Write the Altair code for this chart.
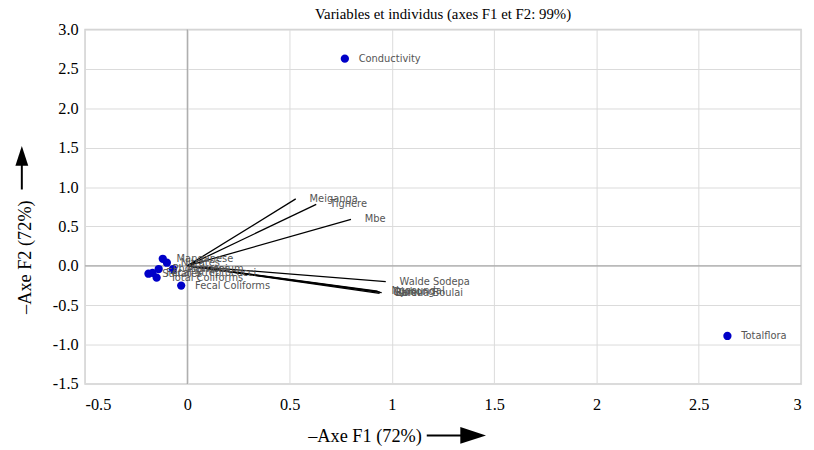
import altair as alt
import pandas as pd

# Individuals (observations) -> blue points
ind_names = ["Conductivity", "Totalflora", "Fecal Coliforms", "Manganese", "Nitrates",
             "Ammonium", "Phosphates", "Sulfates", "Fecal Streptococci", "Total Coliforms"]
ind_f1 = [0.77, 2.64, -0.03, -0.12, -0.10, -0.07, -0.14, -0.19, -0.17, -0.15]
ind_f2 = [2.63, -0.89, -0.25, 0.09, 0.04, -0.04, -0.04, -0.10, -0.09, -0.15]

# Variables (sites) -> vectors from origin
var_names = ["Meiganga", "Tignere", "Mbe", "Walde Sodepa", "Djohong", "Ngaoundal",
             "Belel", "Garoua Boulai"]
var_f1 = [0.53, 0.63, 0.80, 0.97, 0.94, 0.93, 0.95, 0.94]
var_f2 = [0.85, 0.78, 0.59, -0.20, -0.33, -0.32, -0.34, -0.35]

x_ticks = [-0.5, 0, 0.5, 1, 1.5, 2, 2.5, 3]
y_ticks = [-1.5, -1.0, -0.5, 0.0, 0.5, 1.0, 1.5, 2.0, 2.5, 3.0]

ind = pd.DataFrame({"name": ind_names, "f1": ind_f1, "f2": ind_f2})
var = pd.DataFrame({"name": var_names, "f1": var_f1, "f2": var_f2,
                    "o1": [0.0] * len(var_names), "o2": [0.0] * len(var_names)})

SERIF = "Liberation Serif"
SANS = "DejaVu Sans"

xs = alt.Scale(domain=[-0.5, 3], nice=False, zero=False)
ys = alt.Scale(domain=[-1.5, 3], nice=False, zero=False)

xaxis = alt.Axis(values=x_ticks, title="–Axe F1 (72%)",
                 labelExpr="replace(format(datum.value, ''), '−', '-')",
                 labelPadding=13, titleX=283, titleY=52, titleBaseline="middle", titleAlign="center")
yaxis = alt.Axis(values=y_ticks, title="–Axe F2 (72%)",
                 labelExpr="replace(format(datum.value, '.1f'), '−', '-')",
                 labelPadding=7, titleX=-61, titleY=230, titleAngle=270,
                 titleBaseline="middle", titleAlign="center")

zero_df = pd.DataFrame({"v": [0.0]})
zx = alt.Chart(zero_df).mark_rule(color="#a8a8a8", strokeWidth=1.2).encode(
    x=alt.X("v:Q", scale=xs, axis=xaxis))
zy = alt.Chart(zero_df).mark_rule(color="#a8a8a8", strokeWidth=1.2).encode(
    y=alt.Y("v:Q", scale=ys, axis=yaxis))

vec = alt.Chart(var).mark_rule(color="black", strokeWidth=1.3).encode(
    x=alt.X("o1:Q", scale=xs, axis=xaxis), y=alt.Y("o2:Q", scale=ys, axis=yaxis),
    x2="f1:Q", y2="f2:Q")
vec_lab = alt.Chart(var).mark_text(align="left", baseline="middle", dx=14, font=SANS,
                                   fontSize=10, color="#555555").encode(
    x=alt.X("f1:Q", scale=xs, axis=xaxis), y=alt.Y("f2:Q", scale=ys, axis=yaxis), text="name:N")

pts = alt.Chart(ind).mark_circle(size=70, color="#0000c8", opacity=1).encode(
    x=alt.X("f1:Q", scale=xs, axis=xaxis), y=alt.Y("f2:Q", scale=ys, axis=yaxis))
pts_lab = alt.Chart(ind).mark_text(align="left", baseline="middle", dx=14, font=SANS,
                                   fontSize=10, color="#555555").encode(
    x=alt.X("f1:Q", scale=xs, axis=xaxis), y=alt.Y("f2:Q", scale=ys, axis=yaxis), text="name:N")

# decorative arrows next to the axis titles
arrow_df = pd.DataFrame({"a": [0]})
x_shaft = alt.Chart(arrow_df).mark_rule(color="black", strokeWidth=2).encode(
    x=alt.value(346), x2=alt.value(384), y=alt.value(411))
x_head = alt.Chart(arrow_df).mark_point(shape="M-1,-0.65L1,0L-1,0.65Z", filled=True,
                                        size=676, color="black", opacity=1).encode(
    x=alt.value(393), y=alt.value(411))
y_shaft = alt.Chart(arrow_df).mark_rule(color="black", strokeWidth=2).encode(
    x=alt.value(-64), y=alt.value(135), y2=alt.value(162))
y_head = alt.Chart(arrow_df).mark_point(shape="M-0.65,1L0,-1L0.65,1Z", filled=True,
                                        size=400, color="black", opacity=1).encode(
    x=alt.value(-64), y=alt.value(128))

chart = alt.layer(zx, zy, vec, vec_lab, pts, pts_lab, x_shaft, x_head, y_shaft, y_head).properties(
    width=725, height=359,
    padding={"left": 78, "top": 19, "right": 5, "bottom": 62},
    autosize=alt.AutoSizeParams(type="none"),
    title=alt.TitleParams("Variables et individus (axes F1 et F2: 99%)", font=SERIF,
                          fontSize=15, fontWeight="normal", color="black", offset=0,
                          frame="group", anchor="middle"),
).configure(background="white").configure_view(
    stroke="#d0d0d0", strokeWidth=1.5
).configure_axis(
    labelOverlap=False, grid=True, gridColor="#dadada", ticks=False, domain=False,
    labelFont=SERIF, labelFontSize=16.5, labelColor="black",
    titleFont=SERIF, titleFontSize=18.5, titleFontWeight="normal", titleColor="black",
)

chart.save("out.html", embed_options={"renderer": "svg", "actions": False})
